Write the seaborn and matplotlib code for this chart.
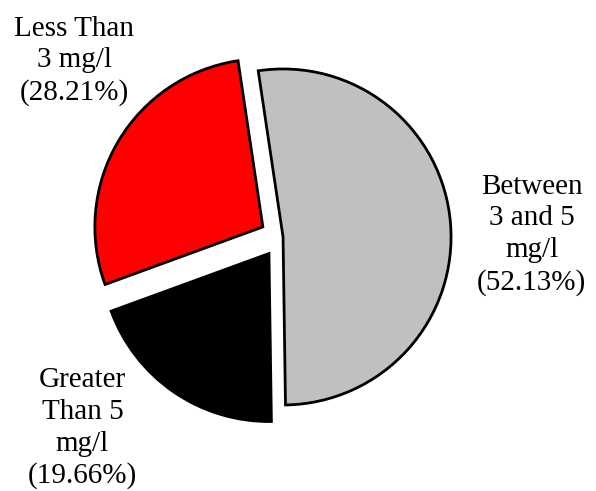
import seaborn as sns
import matplotlib.pyplot as plt

# Data
categories = ["Between\n3 and 5\nmg/l", "Greater\nThan 5\nmg/l", "Less Than\n3 mg/l"]
shares = [52.13, 19.66, 28.21]
colors = ["#C0C0C0", "#000000", "#FF0000"]

# label placement (data units, radius = 1)
label_pos = [(1.498, 0.015), (-1.177, -1.138), (-1.226, 1.049)]

sns.set_theme(style="white")
plt.rcParams['font.family'] = ['Liberation Serif', 'DejaVu Serif']

fig = plt.figure(figsize=(5.96, 4.91), dpi=100)
ax = fig.add_axes([0, 0, 1, 1])

wedges, _ = ax.pie(
    shares,
    colors=colors,
    startangle=98.5,
    counterclock=False,
    explode=[0.017, 0.118, 0.12],
    wedgeprops=dict(edgecolor="black", linewidth=2.0),
)

for name, pct, (x, y) in zip(categories, shares, label_pos):
    ax.text(x, y, f"{name}\n({pct:.2f}%)", ha="center", va="center",
            fontsize=21, linespacing=1.28, color="black")

# pie centre sits at about (280, 237) px, radius ~168 px
ax.set_xlim(-280.2 / 168, (596 - 280.2) / 168)
ax.set_ylim(-253.8 / 168, (491 - 253.8) / 168)
ax.set_aspect("auto")
ax.axis("off")

fig.savefig("out.png", dpi=100)
